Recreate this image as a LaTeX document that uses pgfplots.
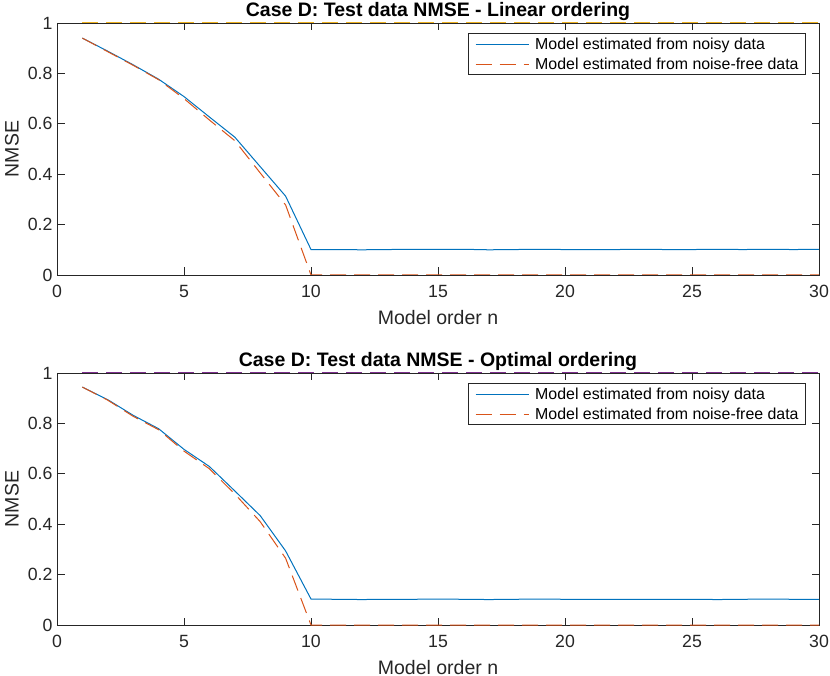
\documentclass[border=0pt]{standalone}
\usepackage{pgfplots}
\pgfplotsset{compat=1.18}
\usepackage{fontspec}
\setmainfont{Liberation Sans}
\definecolor{mblue}{rgb}{0,0.447,0.741}
\definecolor{morange}{rgb}{0.850,0.325,0.098}
\definecolor{myellow}{rgb}{0.929,0.694,0.125}
\definecolor{mpurple}{rgb}{0.494,0.184,0.556}
\definecolor{axgray}{rgb}{0.15,0.15,0.15}
\newcommand{\tickfont}{\fontsize{17.7bp}{21bp}\selectfont}
\newcommand{\labfont}{\fontsize{19.5bp}{23bp}\selectfont}
\newcommand{\legfont}{\fontsize{15.9bp}{19bp}\selectfont}
\newcommand{\lstrut}{\rule[-4bp]{0pt}{15.5bp}}
\pgfplotsset{
  mstyle/.style={
    scale only axis, width=762bp, height=252bp,
    xmin=0, xmax=30, ymin=0, ymax=1,
    xtick={0,5,...,30}, ytick={0,0.2,0.4,0.6,0.8,1},
    tick align=inside, major tick length=7.5bp,
    axis line style={axgray, line width=0.9bp},
    every tick/.style={axgray, line width=0.9bp},
    ticklabel style={font=\tickfont, text=axgray},
    /pgf/number format/assume math mode=true,
    xticklabel style={yshift=-7bp},
    yticklabel style={xshift=-1bp},
    xlabel style={font=\labfont, text=axgray, at={(axis description cs:0.5,-0.168)}, anchor=center},
    ylabel style={font=\labfont, text=axgray, at={(axis description cs:-0.0591,0.5)}, anchor=center, rotate=0},
    title style={font=\labfont\bfseries, at={(axis description cs:0.5,1)}, anchor=base, yshift=1bp},
    xlabel={Model order n}, ylabel={NMSE},
    legend cell align=left,
    legend style={at={(axis description cs:0.983,0.96)}, anchor=north east,
      draw=axgray, line width=0.9bp, font=\legfont,
      inner xsep=7bp, inner ysep=4bp, row sep=7bp, column sep=6bp,
      nodes={inner sep=0pt}},
    legend image code/.code={\draw[##1] (0bp,0bp) -- (53bp,0bp);},
  },
  noisy/.style={draw=mblue, line width=1bp},
  free/.style={draw=morange, line width=1bp, dash pattern=on 16bp off 8bp},
}
\begin{document}
\begin{tikzpicture}
\path[use as bounding box] (0,0) rectangle (830bp,676bp);
\begin{axis}[mstyle, at={(57bp,401bp)}, anchor=south west,
  title={Case D: Test data NMSE - Linear ordering}]
\addplot[noisy] coordinates {(1,0.940) (2,0.888) (3,0.834) (4,0.777) (5,0.708) (6,0.627) (7,0.547) (8,0.430) (9,0.313) (10,0.101) (11,0.101) (12,0.100) (13,0.101) (14,0.102) (15,0.102) (16,0.102) (17,0.100) (18,0.101) (19,0.102) (20,0.101) (21,0.101) (22,0.101) (23,0.102) (24,0.101) (25,0.101) (26,0.102) (27,0.101) (28,0.102) (29,0.101) (30,0.102)};
\addlegendentry{\lstrut Model estimated from noisy data}
\addplot[free] coordinates {(1,0.940) (2,0.886) (3,0.832) (4,0.775) (5,0.700) (6,0.615) (7,0.533) (8,0.405) (9,0.278) (10,0) (11,0) (12,0) (13,0) (14,0) (15,0) (16,0) (17,0) (18,0) (19,0) (20,0) (21,0) (22,0) (23,0) (24,0) (25,0) (26,0) (27,0) (28,0) (29,0) (30,0)};
\addlegendentry{\lstrut Model estimated from noise-free data}
\addplot[draw=myellow, line width=1bp, dash pattern=on 16bp off 8bp, forget plot] coordinates {(1,1) (30,1)};
\end{axis}
\begin{axis}[mstyle, at={(57bp,51bp)}, anchor=south west,
  title={Case D: Test data NMSE - Optimal ordering}]
\addplot[noisy] coordinates {(1,0.944) (2,0.894) (3,0.832) (4,0.779) (5,0.697) (6,0.629) (7,0.532) (8,0.434) (9,0.294) (10,0.103) (11,0.102) (12,0.101) (13,0.102) (14,0.102) (15,0.103) (16,0.102) (17,0.101) (18,0.102) (19,0.103) (20,0.102) (21,0.102) (22,0.102) (23,0.102) (24,0.102) (25,0.102) (26,0.101) (27,0.102) (28,0.103) (29,0.102) (30,0.102)};
\addlegendentry{\lstrut Model estimated from noisy data}
\addplot[free] coordinates {(1,0.944) (2,0.892) (3,0.828) (4,0.775) (5,0.690) (6,0.620) (7,0.520) (8,0.410) (9,0.265) (10,0) (11,0) (12,0) (13,0) (14,0) (15,0) (16,0) (17,0) (18,0) (19,0) (20,0) (21,0) (22,0) (23,0) (24,0) (25,0) (26,0) (27,0) (28,0) (29,0) (30,0)};
\addlegendentry{\lstrut Model estimated from noise-free data}
\addplot[draw=mpurple, line width=1bp, dash pattern=on 16bp off 8bp, forget plot] coordinates {(1,1) (30,1)};
\end{axis}
\end{tikzpicture}
\end{document}
